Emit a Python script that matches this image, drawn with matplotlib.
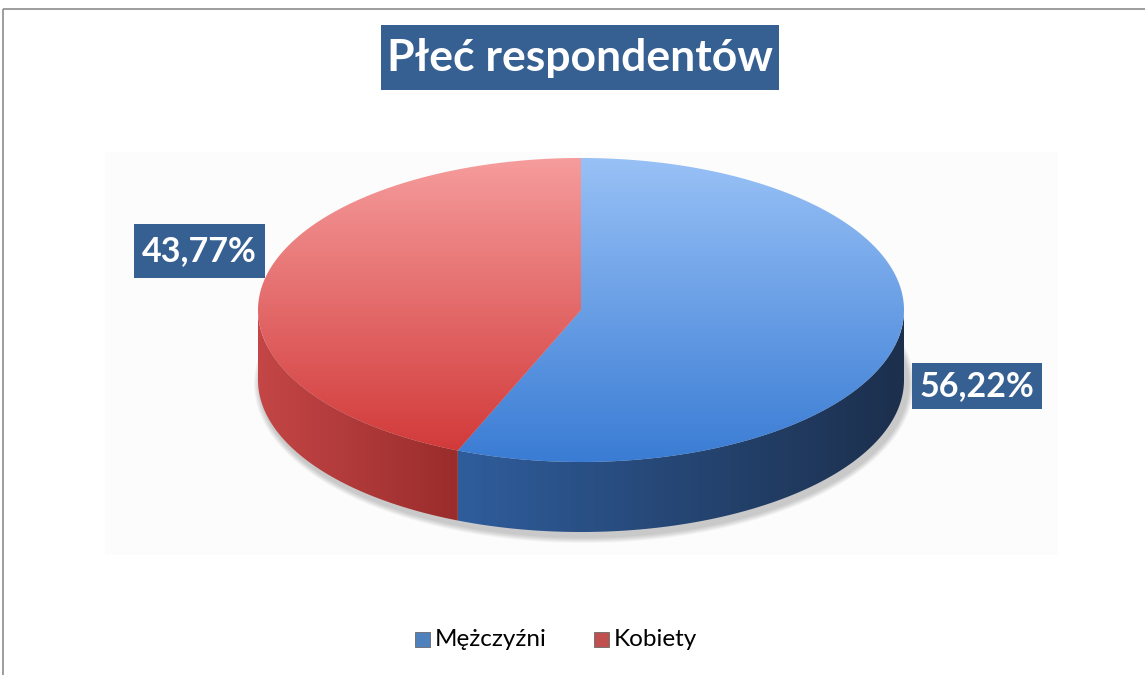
import numpy as np
import matplotlib
matplotlib.use("Agg")
from matplotlib import pyplot as plt
from matplotlib.patches import Polygon, Rectangle, Ellipse
from matplotlib.colors import LinearSegmentedColormap

plt.rcParams["font.family"] = ["Lato", "DejaVu Sans"]

title = "Płeć respondentów"
categories = ["Mężczyźni", "Kobiety"]
values = [56.22, 43.77]
value_labels = ["56,22%", "43,77%"]

top_colors = [("#98c1f6", "#3a7cd4"), ("#f69c9c", "#d23a3a")]
side_colors = [("#2f5d9c", "#1c2f4c"), ("#c44646", "#9a2c2c")]
legend_colors = ["#4f81bd", "#c0504d"]
box_color = "#376092"

W, H = 1145, 675
fig = plt.figure(figsize=(W / 100, H / 100), dpi=100)
ax = fig.add_axes([0, 0, 1, 1])
ax.set_xlim(0, W)
ax.set_ylim(H, 0)
ax.axis("off")

# chart frame and faint plot area
ax.add_patch(Rectangle((2.5, 8.5), W + 10, H, fill=False, edgecolor="#8c8c8c", lw=1.2))
ax.add_patch(Rectangle((105, 152), 953, 403, facecolor="#fcfcfc", edgecolor="none", zorder=0))

cx, cy, a, b, depth = 581, 310, 323, 152, 70


def arc(t0, t1, dy=0, n=200):
    t = np.radians(np.linspace(t0, t1, n))
    return np.column_stack([cx + a * np.cos(t), cy - b * np.sin(t) + dy])


def gradient_fill(poly, c0, c1, vertical=True):
    xs, ys = poly[:, 0], poly[:, 1]
    cmap = LinearSegmentedColormap.from_list("g", [c0, c1])
    g = np.linspace(0, 1, 256)
    img = g[:, None] if vertical else g[None, :]
    patch = Polygon(poly, closed=True, facecolor="none", edgecolor="none")
    ax.add_patch(patch)
    im = ax.imshow(img, cmap=cmap, extent=(xs.min(), xs.max(), ys.max(), ys.min()),
                   aspect="auto", interpolation="bicubic", zorder=2)
    im.set_clip_path(patch)


# tight soft shadow under the pie
for k in range(6):
    ax.add_patch(Ellipse((cx + 3, cy + depth + 4), 2 * a + 14 - k * 2, 2 * b + 14 - k * 2,
                         facecolor="#000000", alpha=0.035, edgecolor="none", zorder=1))

# wedge angles: start at 12 o'clock, clockwise
total = sum(values)
starts, ends = [], []
t = 90.0
for v in values:
    starts.append(t)
    t -= v / total * 360
    ends.append(t)

# side walls (front half only)
for i in range(len(values)):
    t0 = min(starts[i], 0)
    t1 = max(ends[i], -180)
    if t0 > t1:
        top = arc(t0, t1)
        bot = arc(t1, t0, dy=depth)
        gradient_fill(np.vstack([top, bot]), side_colors[i][0], side_colors[i][1], vertical=False)

# top faces
for i in range(len(values)):
    poly = np.vstack([[cx, cy], arc(starts[i], ends[i])])
    gradient_fill(poly, top_colors[i][0], top_colors[i][1], vertical=True)

# title
ax.add_patch(Rectangle((381, 25), 398, 65, facecolor=box_color, edgecolor="none", zorder=5))
ax.text(580, 58, title, color="white", fontsize=32, fontweight="bold",
        ha="center", va="center", zorder=6)

# value labels
label_boxes = [(912, 363, 130, 46), (134, 224, 131, 54)]
for (x, y, w, h), lab in zip(label_boxes, value_labels):
    ax.add_patch(Rectangle((x, y), w, h, facecolor=box_color, edgecolor="none", zorder=5))
    ax.text(x + w / 2, y + h / 2, lab, color="white", fontsize=24.5, fontweight="bold",
            ha="center", va="center", zorder=6)

# legend
leg_x = [415, 594]
for lx, name, col in zip(leg_x, categories, legend_colors):
    ax.add_patch(Rectangle((lx, 632), 15, 15, facecolor=col, edgecolor="#6a6a6a", lw=0.6, zorder=5))
    ax.text(lx + 20, 640, name, color="black", fontsize=17.5, ha="left", va="center", zorder=6)

fig.savefig("out.png", dpi=100)
